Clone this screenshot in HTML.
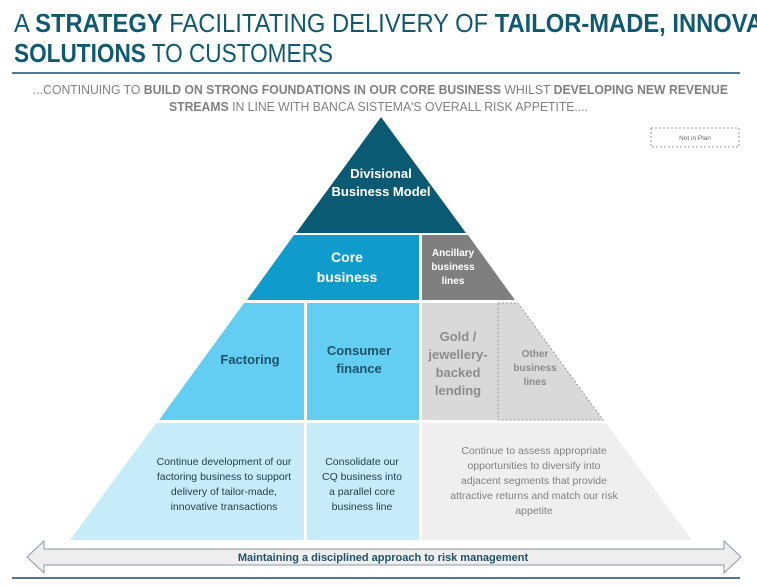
<!DOCTYPE html>
<html><head><style>
html,body{margin:0;padding:0;background:#fff;}
svg{display:block;font-family:"Liberation Sans",Arial,sans-serif;}
</style></head><body>
<svg width="757" height="587" viewBox="0 0 757 587" xmlns="http://www.w3.org/2000/svg">
<text x="14" y="32" font-size="26" fill="#0f5a72" textLength="800" lengthAdjust="spacingAndGlyphs">A <tspan font-weight="bold">STRATEGY</tspan> FACILITATING DELIVERY OF <tspan font-weight="bold">TAILOR-MADE, INNOVATIVE</tspan></text>
<text x="14" y="62" font-size="26" fill="#0f5a72" textLength="319" lengthAdjust="spacingAndGlyphs"><tspan font-weight="bold">SOLUTIONS</tspan> TO CUSTOMERS</text>
<line x1="12" y1="73" x2="740" y2="73" stroke="#1b4e63" stroke-width="1.5"/>
<text x="33" y="94" font-size="12.5" fill="#808080" textLength="695" lengthAdjust="spacingAndGlyphs">...CONTINUING TO <tspan font-weight="bold">BUILD ON STRONG FOUNDATIONS IN OUR CORE BUSINESS</tspan> WHILST <tspan font-weight="bold">DEVELOPING NEW REVENUE</tspan></text>
<text x="169" y="111" font-size="12.5" fill="#808080" textLength="419" lengthAdjust="spacingAndGlyphs"><tspan font-weight="bold">STREAMS</tspan> IN LINE WITH BANCA SISTEMA'S OVERALL RISK APPETITE....</text>
<rect x="651" y="128" width="88" height="19" fill="none" stroke="#999" stroke-dasharray="2,2" stroke-width="1"/>
<text x="695" y="140" font-size="6.5" fill="#666" text-anchor="middle">Not in Plan</text>
<polygon points="381,117 466,233 296,233" fill="#0b5a73"/>
<polygon points="294,235 419,235 419,300 247,300" fill="#0f9ccc"/>
<polygon points="422,235 468,235 515,300 422,300" fill="#7f7f7f"/>
<polygon points="244,303 304,303 304,420 159,420" fill="#63cdf2"/>
<polygon points="307,303 419,303 419,420 307,420" fill="#63cdf2"/>
<polygon points="422,303 518,303 603,420 422,420" fill="#d9d9d9"/>
<polyline points="498,303 518,303 603,420 498,420 498,303" fill="none" stroke="#999" stroke-dasharray="2,2" stroke-width="1"/>
<polygon points="156,423 304,423 304,540 70,540" fill="#c6ecfa"/>
<polygon points="307,423 419,423 419,540 307,540" fill="#c6ecfa"/>
<polygon points="422,423 606,423 692,540 422,540" fill="#efefef"/>
<g font-weight="bold" fill="#fff" text-anchor="middle">
<text x="381" y="178" font-size="13">Divisional</text>
<text x="381" y="196" font-size="13">Business Model</text>
<text x="347" y="262" font-size="14">Core</text>
<text x="347" y="282" font-size="14">business</text>
<text x="453" y="256" font-size="10">Ancillary</text>
<text x="453" y="270" font-size="10">business</text>
<text x="453" y="284" font-size="10">lines</text>
</g>
<g font-weight="bold" fill="#1e5368" text-anchor="middle" font-size="13">
<text x="250" y="364">Factoring</text>
<text x="359" y="355">Consumer</text>
<text x="359" y="373">finance</text>
</g>
<g font-weight="bold" fill="#8c8c8c" text-anchor="middle">
<text x="458" y="341" font-size="13">Gold /</text>
<text x="458" y="359" font-size="13">jewellery-</text>
<text x="458" y="377" font-size="13">backed</text>
<text x="458" y="395" font-size="13">lending</text>
<text x="535" y="357" font-size="10">Other</text>
<text x="535" y="371" font-size="10">business</text>
<text x="535" y="385" font-size="10">lines</text>
</g>
<g fill="#24404e" text-anchor="middle" font-size="10.5">
<text x="224" y="465">Continue development of our</text>
<text x="224" y="480">factoring business to support</text>
<text x="224" y="495">delivery of tailor-made,</text>
<text x="224" y="510">innovative transactions</text>
<text x="362" y="465">Consolidate our</text>
<text x="362" y="480">CQ business into</text>
<text x="362" y="495">a parallel core</text>
<text x="362" y="510">business line</text>
</g>
<g fill="#808080" text-anchor="middle" font-size="10.5">
<text x="534" y="454">Continue to assess appropriate</text>
<text x="534" y="469">opportunities to diversify into</text>
<text x="534" y="484">adjacent segments that provide</text>
<text x="534" y="499">attractive returns and match our risk</text>
<text x="534" y="514">appetite</text>
</g>
<polygon points="27,557 44,541 44,549 724,549 724,541 741,557 724,573 724,565 44,565 44,573" fill="#eeeeee" stroke="#8a9a9f" stroke-width="1"/>
<text x="383" y="561" font-size="11" font-weight="bold" fill="#1e5368" text-anchor="middle">Maintaining a disciplined approach to risk management</text>
<line x1="12" y1="578" x2="740" y2="578" stroke="#1b4e63" stroke-width="1.5"/>
</svg>
</body></html>
